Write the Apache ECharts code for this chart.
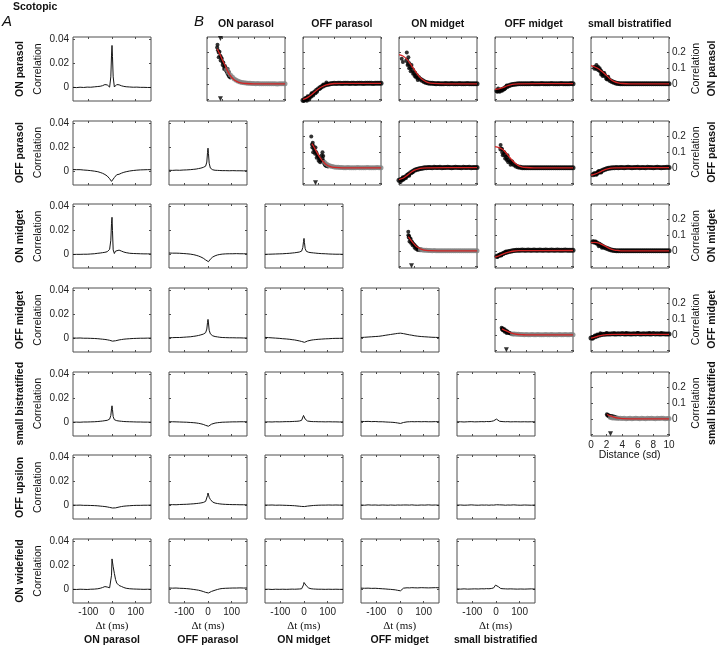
<!DOCTYPE html>
<html><head><meta charset="utf-8">
<script src="https://cdn.jsdelivr.net/npm/echarts@6/dist/echarts.min.js"></script>
<style>html,body{margin:0;padding:0;background:#fff}#c{width:720px;height:647px}</style>
</head><body><div id="c"></div><script>
const n = null;
// ---- labels ----
const ROW_NAMES = ['ON parasol','OFF parasol','ON midget','OFF midget','small bistratified','OFF upsilon','ON widefield'];
const COL_NAMES = ['ON parasol','OFF parasol','ON midget','OFF midget','small bistratified'];
const A_YTICKS = [0, 0.02, 0.04];
const A_XTICKS = [-100, 0, 100];
const B_YTICKS = [0, 0.1, 0.2];
const B_XTICKS = [0, 2, 4, 6, 8, 10];
// ---- panel A: cross-correlation vs lag (ms) ----
const LAG_MS = [-165,-150,-135,-120,-105,-90,-75,-60,-50,-40,-30,-20,-15,-10,-5,-2,0,2,5,10,15,20,30,40,50,60,75,90,105,120,135,150,165];
const ccf_0_0 = [0.0003,0.0001,0.0004,0.0002,0.0005,0.0004,0.0007,0.001,0.0012,0.0017,0.0026,0.0023,0.0013,0.0005,0.009,0.027,0.035,0.026,0.009,0.0006,0.0016,0.0026,0.0024,0.0016,0.0011,0.0008,0.0006,0.0004,0.0005,0.0003,0.0003,0.0002,0.0002];
const ccf_1_0 = [0.0018,0.0017,0.0017,0.0014,0.0012,0.0009,0.0005,0,-0.0006,-0.0013,-0.0023,-0.0036,-0.0046,-0.0058,-0.0072,-0.008,-0.0083,-0.008,-0.007,-0.0048,-0.0032,-0.0025,-0.0021,-0.0012,-0.0005,0,0.0006,0.001,0.0013,0.0015,0.0016,0.0017,0.0017];
const ccf_1_1 = [0.0012,0.0011,0.0013,0.0012,0.0014,0.0015,0.0017,0.002,0.0022,0.0026,0.003,0.0036,0.004,0.0046,0.008,0.016,0.0195,0.015,0.007,0.003,0.002,0.0016,0.0012,0.0011,0.001,0.0009,0.0009,0.0008,0.0009,0.0008,0.0008,0.0007,0.0008];
const ccf_2_0 = [0.0002,0.0003,0.0003,0.0004,0.0004,0.0006,0.0008,0.0012,0.0014,0.0017,0.002,0.0025,0.003,0.0045,0.012,0.026,0.031,0.02,0.004,0.001,0.003,0.0042,0.0038,0.003,0.0022,0.0017,0.0012,0.001,0.0009,0.0008,0.0007,0.0007,0.0006];
const ccf_2_1 = [0.0014,0.0013,0.0013,0.0012,0.001,0.0008,0.0005,0,-0.0005,-0.0011,-0.0019,-0.0029,-0.0036,-0.0043,-0.0053,-0.0059,-0.0061,-0.0058,-0.005,-0.0037,-0.0027,-0.0019,-0.0009,-0.0002,0.0002,0.0005,0.0007,0.0008,0.0008,0.0009,0.0008,0.0008,0.0007];
const ccf_2_2 = [0.0003,0.0004,0.0005,0.0006,0.0007,0.0008,0.001,0.0012,0.0014,0.0016,0.0019,0.0022,0.0025,0.003,0.006,0.011,0.0135,0.01,0.005,0.0028,0.0023,0.002,0.0017,0.0015,0.0013,0.0011,0.0009,0.0008,0.0006,0.0005,0.0004,0.0004,0.0003];
const ccf_3_0 = [0.0006,0.0005,0.0006,0.0004,0.0004,0.0003,0.0002,0,-0.0002,-0.0004,-0.0006,-0.0009,-0.0011,-0.0013,-0.0016,-0.0018,-0.0019,-0.002,-0.0021,-0.002,-0.0017,-0.0014,-0.001,-0.0007,-0.0004,-0.0002,0,0.0002,0.0003,0.0004,0.0004,0.0005,0.0005];
const ccf_3_1 = [0.0008,0.0009,0.001,0.001,0.0012,0.0014,0.0016,0.002,0.0023,0.0027,0.0032,0.0038,0.0043,0.005,0.008,0.0135,0.016,0.013,0.007,0.004,0.003,0.0024,0.0018,0.0015,0.0012,0.001,0.0009,0.0008,0.0008,0.0007,0.0007,0.0006,0.0006];
const ccf_3_2 = [0.0011,0.0009,0.0007,0.0005,0.0003,0,-0.0002,-0.0005,-0.0008,-0.001,-0.0014,-0.0018,-0.002,-0.0023,-0.0028,-0.0031,-0.0033,-0.003,-0.0026,-0.0022,-0.0019,-0.0016,-0.0012,-0.0009,-0.0007,-0.0005,-0.0003,-0.0001,0,0.0002,0.0003,0.0003,0.0004];
const ccf_3_3 = [0.001,0.0012,0.0014,0.0016,0.0018,0.002,0.0024,0.0029,0.0032,0.0035,0.0038,0.0041,0.0043,0.0044,0.0046,0.0047,0.0047,0.0046,0.0045,0.0043,0.0042,0.0039,0.0036,0.0032,0.0029,0.0025,0.0021,0.0018,0.0016,0.0014,0.0012,0.0011,0.001];
const ccf_4_0 = [0.0004,0.0005,0.0004,0.0006,0.0006,0.0007,0.0008,0.001,0.0012,0.0014,0.0017,0.002,0.0024,0.003,0.006,0.0115,0.014,0.011,0.005,0.0025,0.002,0.0017,0.0014,0.0012,0.001,0.0009,0.0008,0.0007,0.0006,0.0006,0.0005,0.0005,0.0004];
const ccf_4_1 = [0.0008,0.0008,0.0007,0.0006,0.0005,0.0004,0.0002,0,-0.0002,-0.0005,-0.0009,-0.0014,-0.0018,-0.0022,-0.0027,-0.003,-0.0031,-0.0029,-0.0024,-0.0018,-0.0012,-0.0008,-0.0003,0,0.0002,0.0004,0.0005,0.0006,0.0007,0.0007,0.0008,0.0008,0.0008];
const ccf_4_2 = [0.0006,0.0007,0.0006,0.0008,0.0007,0.0008,0.0009,0.0009,0.001,0.0011,0.0012,0.0014,0.0016,0.002,0.0035,0.006,0.0068,0.0055,0.003,0.0018,0.0014,0.0012,0.001,0.0009,0.0009,0.0008,0.0008,0.0007,0.0008,0.0007,0.0007,0.0006,0.0007];
const ccf_4_3 = [0.0011,0.001,0.0011,0.0009,0.001,0.0008,0.0008,0.0006,0.0005,0.0004,0.0003,0.0001,0,-0.0002,-0.0004,-0.0005,-0.0006,-0.0006,-0.0005,-0.0002,0.0002,0.0005,0.0007,0.0008,0.0009,0.0008,0.0009,0.0008,0.0009,0.0008,0.0008,0.0009,0.0008];
const ccf_4_4 = [0.0007,0.0008,0.0006,0.0008,0.0009,0.0007,0.0008,0.0009,0.0008,0.001,0.0009,0.0011,0.0012,0.0016,0.0024,0.003,0.0033,0.003,0.0024,0.0016,0.0012,0.001,0.0009,0.0008,0.0009,0.0007,0.0008,0.0008,0.0007,0.0008,0.0007,0.0008,0.0007];
const ccf_5_0 = [0.0005,0.0004,0.0005,0.0003,0.0003,0.0002,0.0001,-0.0001,-0.0003,-0.0005,-0.0007,-0.001,-0.0012,-0.0014,-0.0016,-0.0017,-0.0018,-0.0019,-0.002,-0.002,-0.0018,-0.0015,-0.0011,-0.0007,-0.0004,-0.0002,0,0.0002,0.0003,0.0003,0.0004,0.0004,0.0005];
const ccf_5_1 = [0.0008,0.0009,0.0008,0.001,0.0011,0.0012,0.0014,0.0016,0.0018,0.002,0.0023,0.0027,0.003,0.0036,0.005,0.0085,0.0105,0.0095,0.007,0.0052,0.0038,0.003,0.0022,0.0018,0.0015,0.0013,0.0011,0.001,0.0009,0.0009,0.0008,0.0008,0.0007];
const ccf_5_2 = [0.0006,0.0005,0.0006,0.0004,0.0005,0.0004,0.0003,0.0002,0.0001,0,-0.0002,-0.0004,-0.0005,-0.0006,-0.0007,-0.0008,-0.0008,-0.0007,-0.0006,-0.0005,-0.0003,-0.0002,0,0.0002,0.0003,0.0004,0.0005,0.0005,0.0006,0.0005,0.0006,0.0005,0.0006];
const ccf_5_3 = [0.0006,0.0004,0.0007,0.0005,0.0006,0.0004,0.0006,0.0005,0.0004,0.0006,0.0005,0.0004,0.0005,0.0006,0.0004,0.0005,0.0006,0.0005,0.0007,0.0005,0.0006,0.0004,0.0006,0.0005,0.0007,0.0005,0.0004,0.0006,0.0005,0.0007,0.0005,0.0006,0.0004];
const ccf_5_4 = [0.0005,0.0006,0.0004,0.0005,0.0007,0.0005,0.0004,0.0006,0.0005,0.0006,0.0004,0.0006,0.0007,0.0005,0.0008,0.0009,0.001,0.0008,0.0006,0.0005,0.0007,0.0005,0.0006,0.0004,0.0006,0.0005,0.0007,0.0005,0.0004,0.0006,0.0005,0.0004,0.0006];
const ccf_6_0 = [0.0003,0.0002,0.0004,0.0003,0.0002,0.0004,0.0005,0.0008,0.0012,0.0018,0.0026,0.0022,0.0018,0.0016,0.003,0.012,0.0255,0.024,0.019,0.0135,0.0085,0.0055,0.0035,0.0027,0.0018,0.0012,0.0008,0.0006,0.0005,0.0004,0.0003,0.0004,0.0003];
const ccf_6_1 = [0.0014,0.0013,0.0014,0.0012,0.0011,0.0009,0.0006,0.0002,-0.0001,-0.0004,-0.0009,-0.0015,-0.0019,-0.0022,-0.0026,-0.0028,-0.0028,-0.0027,-0.0024,-0.0019,-0.0014,-0.001,-0.0004,0.0002,0.0007,0.001,0.0012,0.0013,0.0014,0.0014,0.0015,0.0014,0.0014];
const ccf_6_2 = [0.0003,0.0004,0.0002,0.0004,0.0003,0.0004,0.0003,0.0004,0.0005,0.0004,0.0005,0.0006,0.0007,0.0008,0.0015,0.004,0.006,0.0064,0.005,0.0032,0.002,0.0014,0.0008,0.0006,0.0005,0.0004,0.0004,0.0003,0.0004,0.0003,0.0004,0.0003,0.0003];
const ccf_6_3 = [0.0013,0.0012,0.0013,0.0011,0.0012,0.001,0.0008,0.0006,0.0004,0.0003,0.0001,-0.0001,-0.0003,-0.0005,-0.0008,-0.001,-0.0011,-0.0009,-0.0004,0.0006,0.0013,0.0015,0.0016,0.0015,0.0017,0.0016,0.0015,0.0017,0.0016,0.0015,0.0016,0.0017,0.0016];
const ccf_6_4 = [0.0006,0.0005,0.0007,0.0005,0.0006,0.0007,0.0006,0.0008,0.0007,0.0009,0.0008,0.001,0.0011,0.0015,0.0025,0.0038,0.0045,0.0047,0.0038,0.0025,0.0015,0.001,0.0008,0.0007,0.0006,0.0007,0.0006,0.0005,0.0006,0.0005,0.0006,0.0007,0.0005];
// ---- panel B: correlation vs distance (sd) ----
const DIST = [0,0.25,0.5,0.75,1,1.25,1.5,1.75,2,2.25,2.5,2.75,3,3.25,3.5,3.75,4,4.25,4.5,4.75,5,5.25,5.5,5.75,6,6.25,6.5,6.75,7,7.25,7.5,7.75,8,8.25,8.5,8.75,9,9.25,9.5,9.75,10];
const b00_gray = [n,n,n,n,n,n,n,n,n,n,0.092,0.072,0.056,0.043,0.031,0.023,0.017,0.012,0.009,0.007,0.005,0.004,0.003,0.002,0.002,0.001,0.002,0.001,0,0.001,0.001,0,0.001,0,0.001,0,-0.001,0,0.001,0,0];
const b00_cloud = [[1.3,0.232],[1.35,0.25],[1.4,0.215],[1.5,0.2],[1.5,0.17],[1.6,0.205],[1.7,0.18],[1.75,0.15],[1.8,0.17],[1.9,0.16],[2,0.14],[2,0.12],[2.1,0.135],[2.2,0.11],[2.2,0.095],[2.3,0.115],[2.4,0.09],[2.45,0.1],[2.5,0.08],[2.6,0.07],[2.65,0.095],[2.7,0.06],[2.8,0.05],[2.8,0.075],[2.9,0.045],[3,0.04]];
const b00_fit = [[1.3,0.225],[1.6,0.195],[2,0.15],[2.25,0.125],[2.5,0.097],[2.75,0.072],[3,0.052],[3.3,0.034],[3.6,0.021],[4,0.011],[4.5,0.005],[5,0.002],[6,0],[10,0]];
const b01_black = [-0.105,-0.1,-0.094,-0.086,-0.076,-0.064,-0.052,-0.041,-0.031,-0.022,-0.015,-0.009,-0.005,-0.002,0.001,0.002,0.003,0.002,0.004,0.003,0.002,0.004,0.003,0.003,0.002,0.004,0.003,0.002,0.004,0.003,0.003,0.002,0.004,0.003,0.003,0.004,0.002,0.003,0.004,0.003,0.003];
const b01_cloud = [[0.1,-0.11],[0.3,-0.09],[0.5,-0.108],[0.6,-0.08],[0.8,-0.1],[1,-0.085],[1.1,-0.06],[1.3,-0.075],[1.6,-0.06],[1.8,-0.05],[2.2,-0.03],[2.6,-0.005],[3,0.008]];
const b01_fit = [[0,-0.1],[0.5,-0.09],[1,-0.073],[1.5,-0.052],[2,-0.032],[2.5,-0.017],[3,-0.007],[3.5,-0.001],[4,0.002],[5,0.003],[10,0.003]];
const b02_black = [n,n,n,n,0.15,0.13,0.108,0.088,0.07,0.054,0.041,0.03,0.021,0.014,0.009,0.006,0.004,0.003,0.002,0.001,0.002,0.001,0.001,0,0.002,0.001,0.001,0.002,0,0.001,0.001,0.002,0.001,0,0.001,0.002,0.001,0.001,0,0.001,0.001];
const b02_cloud = [[0.35,0.16],[0.5,0.14],[1,0.2],[1.1,0.12],[1.2,0.17],[1.3,0.1],[1.5,0.08],[1.6,0.12],[1.8,0.065],[2,0.05],[2.2,0.04],[2.4,0.025]];
const b02_fit = [[0,0.187],[0.5,0.178],[1,0.158],[1.5,0.125],[2,0.088],[2.5,0.052],[3,0.027],[3.5,0.012],[4,0.005],[5,0.001],[6,0],[10,0]];
const b03_black = [n,-0.045,-0.043,-0.04,-0.034,-0.026,-0.019,-0.012,-0.007,-0.004,-0.002,-0.001,0,0.001,0,0.001,0.001,0,0.001,0.002,0.001,0,0.001,0.001,0.002,0,0.001,0.001,0,0.002,0.001,0.001,0,0.001,0.002,0.001,0,0.001,0.001,0.002,0.001];
const b03_cloud = [[0.3,-0.05],[0.6,-0.05],[0.9,-0.045],[1.2,-0.035],[0.4,-0.03],[1.5,-0.01]];
const b03_fit = [[0,-0.036],[0.5,-0.032],[1,-0.025],[1.5,-0.014],[2,-0.006],[2.5,-0.002],[3,0],[10,0.001]];
const b04_black = [n,n,0.1,0.1,0.09,0.08,0.068,0.055,0.041,0.03,0.02,0.013,0.008,0.004,0.002,0.001,0.001,0,0.001,0,0.001,0.001,0,0.001,0,0.001,0.001,0,0.001,0,0.001,0,0.001,0.001,0,0.001,0,0.001,0.001,0,0.001];
const b04_cloud = [[0.45,0.11],[0.7,0.12],[0.9,0.11],[1.1,0.1],[1.2,0.085],[1.3,0.06],[1.5,0.05],[1.7,0.07],[2,0.03],[2.2,0.045]];
const b04_fit = [[0,0.117],[0.5,0.108],[1,0.095],[1.5,0.075],[2,0.053],[2.5,0.03],[3,0.014],[3.5,0.006],[4,0.002],[5,0],[10,0]];
const b11_gray = [n,n,n,n,n,n,n,n,n,n,n,0.035,0.024,0.016,0.011,0.008,0.006,0.004,0.003,0.002,0.002,0.001,0.001,0.002,0.001,0,0.001,0.001,0.002,0.001,0,0.001,0.001,0.002,0.001,0.001,0,0.001,0.002,0.001,0.001];
const b11_cloud = [[1.06,0.2],[1.15,0.15],[1.2,0.13],[1.25,0.16],[1.35,0.14],[1.4,0.12],[1.5,0.11],[1.6,0.13],[1.7,0.1],[1.8,0.085],[1.9,0.075],[2,0.07],[2.1,0.06],[2.2,0.05],[2.3,0.045],[2.4,0.08],[2.5,0.06],[2.6,0.045],[2.7,0.03],[2.8,0.02],[2.9,0.015],[3,0.012],[3.2,0.008],[1.3,0.1],[1.55,0.09],[1.75,0.065],[2,0.045],[2.2,0.035],[2.5,0.1],[2.6,0.075]];
const b11_fit = [[1.15,0.155],[1.5,0.125],[2,0.08],[2.5,0.045],[3,0.02],[3.5,0.008],[4,0.003],[5,0],[10,0]];
const b12_black = [-0.08,-0.075,-0.069,-0.06,-0.051,-0.041,-0.031,-0.023,-0.016,-0.011,-0.007,-0.004,-0.002,0,0.001,0.002,0.002,0.001,0.003,0.002,0.002,0.003,0.001,0.002,0.002,0.003,0.002,0.001,0.002,0.003,0.002,0.002,0.001,0.003,0.002,0.002,0.003,0.001,0.002,0.002,0.002];
const b12_cloud = [[0.2,-0.09],[0.4,-0.08],[0.5,-0.06],[0.6,-0.075],[0.9,-0.065],[1.1,-0.045],[1.3,-0.05],[1.7,-0.03]];
const b12_fit = [[0,-0.075],[0.5,-0.067],[1,-0.05],[1.5,-0.03],[2,-0.015],[2.5,-0.006],[3,-0.002],[3.5,0],[10,0.001]];
const b13_black = [n,n,n,0.12,0.1,0.085,0.07,0.052,0.04,0.028,0.018,0.01,0.006,0.003,0.001,0.001,0,0.001,0,0.001,0.001,0,0.001,0.001,0,0.001,0,0.001,0.001,0,0.001,0.001,0,0.001,0.001,0,0.001,0.001,0,0.001,0.001];
const b13_cloud = [[0.72,0.146],[0.9,0.12],[1,0.08],[1.2,0.1],[1.3,0.06],[1.5,0.05],[1.6,0.08],[1.7,0.035],[2,0.02],[2.2,0.04]];
const b13_fit = [[0,0.136],[0.5,0.13],[1,0.117],[1.5,0.09],[2,0.06],[2.5,0.032],[3,0.014],[3.5,0.005],[4,0.002],[5,0],[10,0]];
const b14_black = [n,-0.045,-0.04,-0.034,-0.029,-0.022,-0.016,-0.01,-0.006,-0.003,-0.001,0,0.001,0.002,0.001,0.002,0.002,0.001,0.002,0.003,0.002,0.001,0.002,0.002,0.003,0.001,0.002,0.002,0.001,0.003,0.002,0.002,0.001,0.002,0.003,0.002,0.001,0.002,0.002,0.003,0.002];
const b14_cloud = [[0.4,-0.035],[0.7,-0.045],[0.9,-0.025],[1,-0.02],[1.3,-0.03]];
const b14_fit = [[0,-0.047],[0.5,-0.04],[1,-0.03],[1.5,-0.018],[2,-0.008],[2.5,-0.002],[3,0],[10,0.001]];
const b22_gray = [n,n,n,n,n,n,n,n,n,n,n,0.008,0.006,0.004,0.003,0.002,0.002,0.001,0.002,0.001,0.001,0,0.001,0.001,0,0.001,0.001,0,0.001,0.001,0,0.001,0.001,0,0.001,0,0.001,0.001,0,0.001,0.001];
const b22_cloud = [[1.19,0.123],[1.2,0.1],[1.25,0.085],[1.3,0.095],[1.4,0.08],[1.5,0.075],[1.6,0.06],[1.7,0.055],[1.8,0.045],[1.9,0.04],[2,0.035],[2.1,0.03],[2.2,0.025],[2.3,0.02],[2.4,0.015],[2.5,0.012],[2.6,0.01],[2.8,0.008],[1.35,0.06],[1.55,0.05],[1.75,0.035],[2,0.02],[2.2,0.012],[2.4,0.005],[2.7,0.003]];
const b22_fit = [[1.19,0.091],[1.5,0.07],[1.83,0.049],[2.2,0.03],[2.5,0.02],[3,0.008],[3.5,0.003],[4,0.001],[5,0],[10,0]];
const b23_black = [n,-0.035,-0.03,-0.024,-0.018,-0.013,-0.009,-0.005,-0.002,0,0.002,0.003,0.004,0.003,0.005,0.004,0.003,0.005,0.004,0.004,0.005,0.003,0.004,0.005,0.004,0.003,0.005,0.004,0.004,0.005,0.003,0.004,0.005,0.004,0.003,0.004,0.005,0.004,0.004,0.003,0.004];
const b23_cloud = [[0.3,-0.04],[0.6,-0.025],[0.8,-0.03],[1.1,-0.015],[1.4,-0.005]];
const b23_fit = [[0,-0.04],[0.5,-0.032],[1,-0.021],[1.5,-0.012],[2,-0.005],[2.5,-0.001],[3,0.001],[10,0.002]];
const b24_black = [n,0.058,0.055,0.05,0.043,0.036,0.029,0.022,0.016,0.011,0.007,0.004,0.002,0.001,0,0.001,0,0.001,0.001,0,0.001,0,0.001,0,0.001,0.001,0,0.001,0,0.001,0.001,0,0.001,0.001,0,0.001,0,0.001,0.001,0,0.001];
const b24_cloud = [[0.35,0.06],[0.6,0.06],[0.8,0.045],[1,0.03],[1.2,0.04],[1.4,0.02],[1.6,0.025]];
const b24_fit = [[0,0.053],[0.5,0.054],[1,0.05],[1.5,0.038],[2,0.025],[2.5,0.013],[3,0.005],[3.5,0.002],[4,0],[10,0]];
const b33_gray = [n,n,n,n,n,n,n,n,n,0.006,0.005,0.004,0.003,0.002,0.002,0.001,0.002,0.001,0.001,0.002,0.001,0.001,0.002,0.001,0,0.001,0.002,0.001,0.001,0.002,0.001,0,0.001,0.002,0.001,0.001,0.002,0.001,0.001,0.002,0.001];
const b33_cloud = [[0.85,0.045],[0.9,0.035],[1,0.04],[1.1,0.03],[1.2,0.035],[1.3,0.025],[1.4,0.028],[1.5,0.02],[1.6,0.022],[1.7,0.015],[1.8,0.012],[1.9,0.01],[2,0.008],[2.2,0.006],[2.4,0.004],[1,0.03],[1.25,0.02],[1.5,0.012]];
const b33_fit = [[0.89,0.038],[1.2,0.03],[1.66,0.021],[2,0.013],[2.5,0.006],[3,0.002],[3.5,0.001],[4,0],[10,0]];
const b34_black = [-0.02,-0.017,-0.012,-0.007,-0.003,0,0.003,0.004,0.005,0.006,0.005,0.007,0.006,0.005,0.007,0.006,0.008,0.005,0.006,0.007,0.006,0.005,0.007,0.006,0.008,0.006,0.005,0.007,0.006,0.007,0.005,0.006,0.008,0.006,0.007,0.005,0.006,0.007,0.006,0.005,0.006];
const b34_cloud = [[0.2,-0.025],[0.5,-0.005],[0.8,0.002],[1.2,0.01],[2,0.012],[3,0.01],[4.5,0.012],[6,0.011],[7.5,0.012],[9,0.011]];
const b34_fit = [[0,-0.021],[0.5,-0.015],[1,-0.007],[1.5,-0.002],[2,0.001],[3,0.003],[10,0.003]];
const b44_gray = [n,n,n,n,n,n,n,n,n,n,0.008,0.006,0.005,0.004,0.003,0.003,0.002,0.003,0.001,0.002,0.003,0.001,0.002,0.004,0.002,0.001,0.003,0.002,0.001,0.003,0.002,0.004,0.002,0.001,0.003,0.002,0.004,0.003,0.001,0.002,0.002];
const b44_cloud = [[2.04,0.03],[2.1,0.022],[2.2,0.025],[2.3,0.015],[2.4,0.02],[2.5,0.012],[2.6,0.018],[2.7,0.01],[2.8,0.016],[2.9,0.008],[3,0.014],[3.1,0.01],[3.2,0.006],[3.3,0.008],[3.5,0.004]];
const b44_fit = [[2.04,0.028],[2.3,0.022],[2.6,0.017],[3,0.009],[3.5,0.004],[4,0.001],[5,0],[10,0]];
// nearest-neighbour distance markers (diagonal panels) and clipped outlier marker
const NN_DIST = [1.72, 1.6, 1.6, 1.46, 2.5];
const b00_outlier = [[1.72, 0.29]];

// ---- assemble ----
const CCF = [[ccf_0_0],[ccf_1_0,ccf_1_1],[ccf_2_0,ccf_2_1,ccf_2_2],[ccf_3_0,ccf_3_1,ccf_3_2,ccf_3_3],
  [ccf_4_0,ccf_4_1,ccf_4_2,ccf_4_3,ccf_4_4],[ccf_5_0,ccf_5_1,ccf_5_2,ccf_5_3,ccf_5_4],[ccf_6_0,ccf_6_1,ccf_6_2,ccf_6_3,ccf_6_4]];
const BP = {
 '0_0':{gray:b00_gray,cloud:b00_cloud,fit:b00_fit},'0_1':{black:b01_black,cloud:b01_cloud,fit:b01_fit},
 '0_2':{black:b02_black,cloud:b02_cloud,fit:b02_fit},'0_3':{black:b03_black,cloud:b03_cloud,fit:b03_fit},
 '0_4':{black:b04_black,cloud:b04_cloud,fit:b04_fit},'1_1':{gray:b11_gray,cloud:b11_cloud,fit:b11_fit},
 '1_2':{black:b12_black,cloud:b12_cloud,fit:b12_fit},'1_3':{black:b13_black,cloud:b13_cloud,fit:b13_fit},
 '1_4':{black:b14_black,cloud:b14_cloud,fit:b14_fit},'2_2':{gray:b22_gray,cloud:b22_cloud,fit:b22_fit},
 '2_3':{black:b23_black,cloud:b23_cloud,fit:b23_fit},'2_4':{black:b24_black,cloud:b24_cloud,fit:b24_fit},
 '3_3':{gray:b33_gray,cloud:b33_cloud,fit:b33_fit},'3_4':{black:b34_black,cloud:b34_cloud,fit:b34_fit},
 '4_4':{gray:b44_gray,cloud:b44_cloud,fit:b44_fit}
};

const SANS = 'Liberation Sans, Arial, Helvetica, sans-serif';
const SERIF = 'Liberation Serif, Times New Roman, serif';
const A_LEFT0 = 73, B_LEFT0 = 207, COL_STEP = 95.9, TOP0 = 37, ROW_STEP = 83.67, PW = 78, PH = 64;
const BOX = '#4e4e4e';

const grids = [], xAxes = [], yAxes = [], series = [], graphics = [];
function axisCommon(g, pos, min, max, ticks, labels, margin) {
  return {
    gridIndex: g, type: 'value', position: pos, min, max, scale: false,
    axisLine: {show: false, onZero: false}, splitLine: {show: false},
    axisTick: {show: true, inside: true, length: 2, customValues: ticks, lineStyle: {color: BOX, width: 1}},
    axisLabel: labels ? {show: true, customValues: labels, fontSize: 10, color: '#222', fontFamily: SANS, margin: margin} : {show: false}
  };
}
function addPanel(left, top, ax) {
  const g = grids.length;
  grids.push({left: Math.round(left), top: Math.round(top), width: PW, height: PH, show: true,
    borderColor: BOX, borderWidth: 1, backgroundColor: 'rgba(0,0,0,0)', containLabel: false});
  xAxes.push(axisCommon(g, 'bottom', ax.xmin, ax.xmax, ax.xticks, ax.xlab ? ax.xticks : null, 4));
  xAxes.push(axisCommon(g, 'top', ax.xmin, ax.xmax, ax.xticks, null, 4));
  yAxes.push(axisCommon(g, 'left', ax.ymin, ax.ymax, ax.yticks, ax.ylabL ? ax.ylabels : null, 4));
  yAxes.push(axisCommon(g, 'right', ax.ymin, ax.ymax, ax.yticks, ax.ylabR ? ax.ylabels : null, 3));
  return g;
}
function txt(x, y, text, o) {
  o = o || {};
  graphics.push({type: 'text', x, y, rotation: o.rot || 0, silent: true,
    style: {text, fill: '#111', fontSize: o.size || 10.5, fontWeight: o.bold ? 'bold' : 'normal',
      fontStyle: o.italic ? 'italic' : 'normal', fontFamily: o.family || SANS,
      align: o.align || 'center', verticalAlign: 'middle', textAlign: o.align || 'center', textVerticalAlign: 'middle'}});
}

// Panel A
for (let r = 0; r < 7; r++) {
  for (let c = 0; c <= Math.min(r, 4); c++) {
    const g = addPanel(A_LEFT0 + COL_STEP * c, TOP0 + ROW_STEP * r, {
      xmin: -165, xmax: 165, xticks: A_XTICKS, xlab: r === 6,
      ymin: -0.011, ymax: 0.042, yticks: A_YTICKS, ylabels: A_YTICKS, ylabL: c === 0, ylabR: false});
    const arr = CCF[r][c];
    series.push({type: 'line', xAxisIndex: 2 * g, yAxisIndex: 2 * g, showSymbol: false, symbol: 'none',
      data: LAG_MS.map((t, i) => [t, arr[i]]), lineStyle: {color: '#141414', width: 1}, silent: true, clip: true});
  }
}
// Panel B
for (let r = 0; r < 5; r++) {
  for (let c = r; c < 5; c++) {
    const g = addPanel(B_LEFT0 + COL_STEP * c, TOP0 + ROW_STEP * r, {
      xmin: 0, xmax: 10, xticks: B_XTICKS, xlab: (r === 4 && c === 4),
      ymin: -0.11, ymax: 0.3, yticks: [-0.1, 0, 0.1, 0.2], ylabels: B_YTICKS, ylabL: false, ylabR: c === 4});
    const p = BP[r + '_' + c];
    const xi = 2 * g, yi = 2 * g;
    const grid = (a) => a.map((v, i) => v === null ? null : [DIST[i], v]).filter(Boolean);
    if (p.black) series.push({type: 'scatter', xAxisIndex: xi, yAxisIndex: yi, data: grid(p.black), symbolSize: 5, itemStyle: {color: '#000'}, silent: true});
    series.push({type: 'scatter', xAxisIndex: xi, yAxisIndex: yi, data: p.cloud, symbolSize: 4, itemStyle: {color: '#000'}, silent: true});
    if (p.gray) series.push({type: 'scatter', xAxisIndex: xi, yAxisIndex: yi, data: grid(p.gray), symbolSize: 5, itemStyle: {color: '#808080'}, silent: true});
    series.push({type: 'line', xAxisIndex: xi, yAxisIndex: yi, data: p.fit, smooth: 0.3, showSymbol: false, symbol: 'none',
      lineStyle: {color: '#d42424', width: 1.3}, silent: true});
    if (r === c) {
      const marks = [[NN_DIST[r], -0.095]];
      if (r === 0) marks.push(...b00_outlier);
      series.push({type: 'scatter', xAxisIndex: xi, yAxisIndex: yi, data: marks, symbol: 'triangle', symbolRotate: 180,
        symbolSize: 5, itemStyle: {color: '#000'}, silent: true});
    }
  }
}

// Texts
txt(13, 7, 'Scotopic', {bold: true, align: 'left'});
txt(2, 21.5, 'A', {size: 15, italic: true, align: 'left'});
txt(194, 21.5, 'B', {size: 15, italic: true, align: 'left'});
for (let c = 0; c < 5; c++) txt(B_LEFT0 + COL_STEP * c + PW / 2, 24, COL_NAMES[c], {bold: true});
for (let r = 0; r < 7; r++) {
  const yc = TOP0 + ROW_STEP * r + 32;
  txt(20, yc, ROW_NAMES[r], {bold: true, rot: Math.PI / 2});
  txt(38, yc, 'Correlation', {size: 10.5, rot: Math.PI / 2});
}
for (let r = 0; r < 5; r++) {
  const yc = TOP0 + ROW_STEP * r + 31.5;
  txt(696, yc, 'Correlation', {size: 10.5, rot: Math.PI / 2});
  txt(712.5, yc, ROW_NAMES[r], {bold: true, rot: Math.PI / 2});
}
for (let c = 0; c < 5; c++) {
  const xc = A_LEFT0 + COL_STEP * c + PW / 2;
  txt(xc, 626, '\u0394t (ms)', {size: 11, family: SERIF});
  txt(xc, 640, COL_NAMES[c], {bold: true});
}
txt(B_LEFT0 + COL_STEP * 4 + PW / 2, 455, 'Distance (sd)', {size: 10.5});

const chart = echarts.init(document.getElementById('c'), null, {renderer: 'canvas'});
chart.setOption({animation: false, backgroundColor: '#fff', grid: grids, xAxis: xAxes, yAxis: yAxes, series, graphic: graphics});
</script></body></html>
